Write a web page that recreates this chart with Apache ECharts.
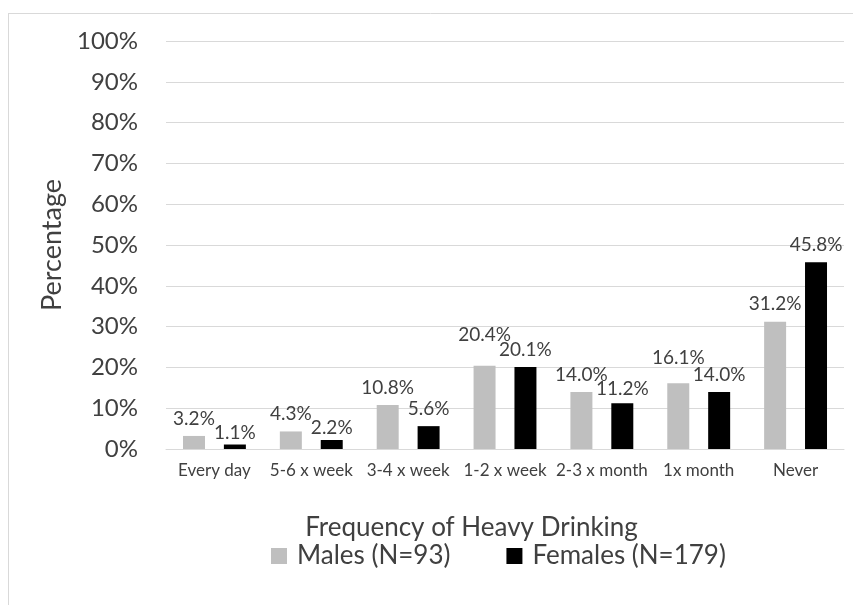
<!DOCTYPE html>
<html>
<head>
<meta charset="utf-8">
<script src="https://cdn.jsdelivr.net/npm/echarts@6/dist/echarts.min.js"></script>
<style>
html,body{margin:0;padding:0;background:#fff;}
#chart{width:853px;height:605px;}
</style>
</head>
<body>
<div id="chart"></div>
<script>
var categories = ['Every day', '5-6 x week', '3-4 x week', '1-2 x week', '2-3 x month', '1x month', 'Never'];
var males = [3.2, 4.3, 10.8, 20.4, 14.0, 16.1, 31.2];
var females = [1.1, 2.2, 5.6, 20.1, 11.2, 14.0, 45.8];
var seriesNames = ['Males (N=93)', 'Females (N=179)'];
var yTicks = [0, 10, 20, 30, 40, 50, 60, 70, 80, 90, 100];

var FONT = 'Lato, "Open Sans", sans-serif';
// small manual label nudges (as in the original chart, in px, upward positive)
var labelNudge = [{3: 13, 5: 8}, {0: -6, 1: -5, 4: -3}];

function buildData(values, seriesIdx) {
  return values.map(function (v, i) {
    var n = labelNudge[seriesIdx][i];
    if (n) {
      return {value: v, label: {distance: 8 + n}};
    }
    return v;
  });
}

var chart = echarts.init(document.getElementById('chart'), null, {renderer: 'canvas'});
var labelCfg = {
  show: true,
  position: 'top',
  distance: 8,
  fontFamily: FONT,
  fontSize: 19,
  color: '#404040',
  formatter: function (p) { return p.value.toFixed(1) + '%'; }
};
chart.setOption({
  animation: false,
  backgroundColor: '#fff',
  graphic: [
    {type: 'line', shape: {x1: 8, y1: 13.5, x2: 853, y2: 13.5}, style: {stroke: '#d9d9d9', lineWidth: 1}},
    {type: 'line', shape: {x1: 8.5, y1: 13, x2: 8.5, y2: 605}, style: {stroke: '#d9d9d9', lineWidth: 1}}
  ],
  grid: {left: 166, right: 9, top: 41, bottom: 156, containLabel: false},
  legend: {
    data: seriesNames,
    left: 266,
    top: 538,
    icon: 'rect',
    itemWidth: 16,
    itemHeight: 16,
    itemGap: 56,
    textStyle: {fontFamily: FONT, fontSize: 26, color: '#404040', padding: [0, 0, 0, 5]}
  },
  xAxis: {
    type: 'category',
    data: categories,
    name: 'Frequency of Heavy Drinking',
    nameLocation: 'middle',
    nameGap: 66,
    nameTextStyle: {fontFamily: FONT, fontSize: 26, color: '#404040', padding: [0, 67, 0, 0]},
    axisLine: {lineStyle: {color: '#d9d9d9'}},
    axisTick: {show: false},
    axisLabel: {fontFamily: FONT, fontSize: 17, color: '#404040', margin: 13, interval: 0}
  },
  yAxis: {
    type: 'value',
    min: 0,
    max: 100,
    interval: 10,
    name: 'Percentage',
    nameLocation: 'middle',
    nameGap: 98,
    nameTextStyle: {fontFamily: FONT, fontSize: 27, color: '#404040'},
    axisLine: {show: false},
    axisTick: {show: false},
    splitLine: {lineStyle: {color: '#d9d9d9'}},
    axisLabel: {
      fontFamily: FONT, fontSize: 24, color: '#404040', margin: 28,
      formatter: function (v) { return yTicks.indexOf(v) >= 0 ? v + '%' : ''; }
    }
  },
  series: [
    {name: seriesNames[0], type: 'bar', data: buildData(males, 0), barWidth: '22.7%', barGap: '86%',
     itemStyle: {color: '#bfbfbf'}, label: labelCfg},
    {name: seriesNames[1], type: 'bar', data: buildData(females, 1), barWidth: '22.7%', barGap: '86%',
     itemStyle: {color: '#000000'}, label: labelCfg}
  ]
});
</script>
</body>
</html>
